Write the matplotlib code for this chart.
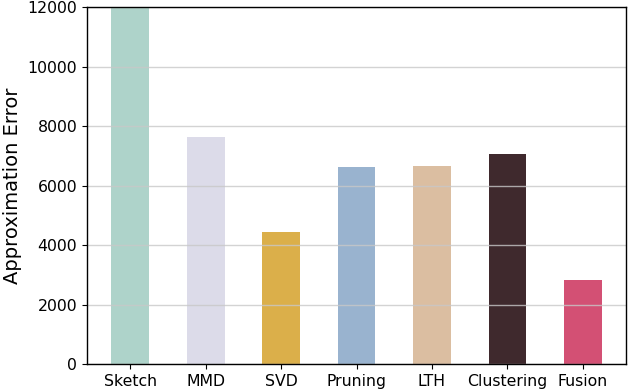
import matplotlib
matplotlib.use('Agg')
import matplotlib.pyplot as plt

# Data
methods = ['Sketch', 'MMD', 'SVD', 'Pruning', 'LTH', 'Clustering', 'Fusion']
errors = [12000, 7630, 4440, 6620, 6655, 7060, 2825]
colors = ['#aed3ca', '#dcdbe9', '#dbaf4a', '#99b3cf', '#dbbea1', '#3f292d', '#d35074']

plt.rcParams.update({
    'font.family': 'DejaVu Sans',
    'font.size': 11.3,
    'axes.linewidth': 1.0,
})

fig = plt.figure(figsize=(6.28, 3.92), dpi=100)
ax = fig.add_axes([0.1385, 0.0714, 0.8585, 0.9106])

ax.bar(methods, errors, color=colors, width=0.5)
ax.set_ylim(0, 12000)
ax.set_yticks([0, 2000, 4000, 6000, 8000, 10000, 12000])
# grid sits above the bars but below the spines
ax.set_axisbelow('line')
ax.yaxis.grid(True, color='#c8c8c8', linewidth=1, alpha=0.8)
ax.set_ylabel('Approximation Error', fontsize=14)

fig.savefig('out.png', dpi=100)
plt.close(fig)
